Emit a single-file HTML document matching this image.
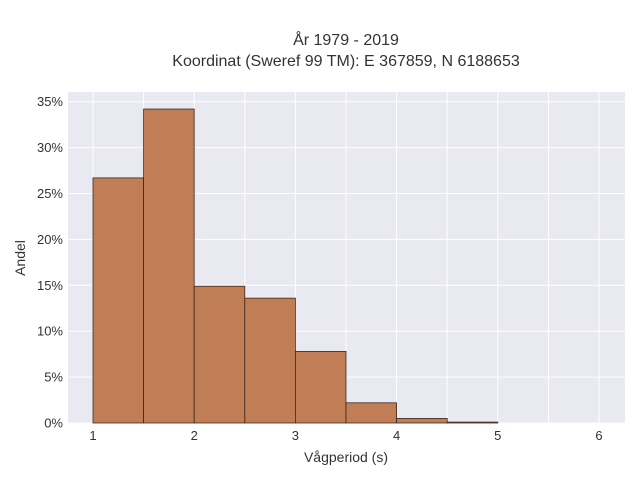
<!DOCTYPE html>
<html><head><meta charset="utf-8"><style>
body{margin:0;background:#fff;font-family:"Liberation Sans",sans-serif;}
</style></head><body>
<svg width="640" height="480" xmlns="http://www.w3.org/2000/svg">
<g id="chart"></g>
</svg>
<script>
const binStarts=[1,1.5,2,2.5,3,3.5,4,4.5];
const binValues=[26.7,34.2,14.9,13.6,7.8,2.2,0.5,0.1];
const xTicks=[1,2,3,4,5,6];
const yTicks=[0,5,10,15,20,25,30,35];
const binWidth=0.5;
const L=68,R=625,T=92,B=423;
const xs=v=>93+(v-1)*101.2;
const ys=v=>B-v*9.18;
const g=document.getElementById('chart');
const NS='http://www.w3.org/2000/svg';
function el(t,a,txt){const e=document.createElementNS(NS,t);for(const k in a)e.setAttribute(k,a[k]);if(txt!==undefined)e.textContent=txt;g.appendChild(e);return e;}
let bg=el('rect',{x:L,y:T,width:R-L,height:B-T,fill:'#e9e9f1'});


for(let v=1;v<=6.01;v+=0.5){let l=el('line',{x1:xs(v),x2:xs(v),y1:T,y2:B,stroke:'#fff','stroke-width':1});

}
yTicks.forEach(v=>{let l=el('line',{x1:L,x2:R,y1:ys(v),y2:ys(v),stroke:'#fff','stroke-width':1});


let t=el('text',{x:L-5,y:ys(v)+4.5,'text-anchor':'end','font-size':13,fill:'#333'},v+'%');

});
xTicks.forEach(v=>{let t=el('text',{x:xs(v),y:B+17,'text-anchor':'middle','font-size':13,fill:'#333'},v);

});
binStarts.forEach((s,i)=>{const x0=xs(s),x1=xs(s+binWidth),y=ys(binValues[i]);
let r=el('rect',{x:x0,y:y,width:x1-x0,height:B-y,fill:'#c07d56',stroke:'#3a2a20','stroke-width':0.8});

});
let t1=el('text',{x:346,y:45,'text-anchor':'middle','font-size':16,fill:'#333'},'År 1979 - 2019');


let t2=el('text',{x:346,y:66,'text-anchor':'middle','font-size':16,fill:'#333'},'Koordinat (Sweref 99 TM): E 367859, N 6188653');


let xt=el('text',{x:346,y:462,'text-anchor':'middle','font-size':14,fill:'#333'},'Vågperiod (s)');


let yt=el('text',{x:25,y:258,'text-anchor':'middle','font-size':14,fill:'#333',transform:'rotate(-90 25 258)'},'Andel');


</script>
</body></html>
